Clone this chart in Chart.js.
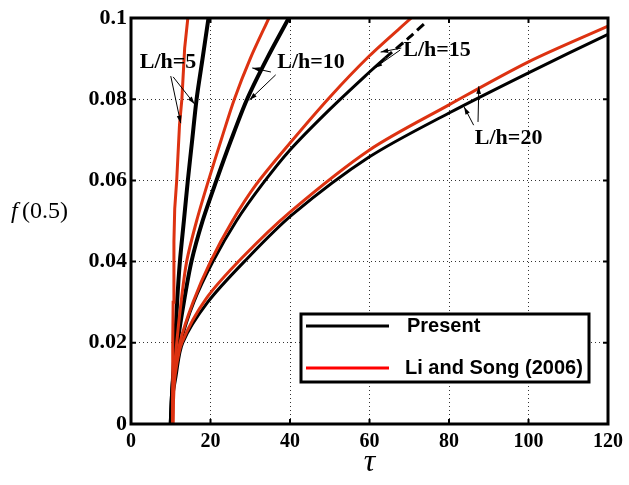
<!DOCTYPE html>
<html>
<head>
<meta charset="utf-8">
<script src="https://cdn.jsdelivr.net/npm/chart.js@4.4.1/dist/chart.umd.min.js"></script>
<style>
  body { margin: 0; background: #fff; }
</style>
</head>
<body>
<canvas id="chart" width="629" height="485"></canvas>
<script>
const xTickLabels = ['0', '20', '40', '60', '80', '100', '120'];
const yTickLabels = ['0', '0.02', '0.04', '0.06', '0.08', '0.1'];

// Present (black)
const tauPresent5 = [10, 10.2, 10.6, 11.1, 11.6, 12.3, 13.3, 14.3, 15.4, 16.5, 18.0, 19.5];
const fPresent5 = [0, 0.005, 0.012, 0.02, 0.03, 0.04, 0.05, 0.06, 0.07, 0.08, 0.09, 0.1];
const tauPresent10 = [10, 10.5, 11.7, 13.3, 15.2, 18, 21.5, 25.2, 29.2, 34.2, 39.7];
const fPresent10 = [0, 0.01, 0.02, 0.03, 0.04, 0.05, 0.06, 0.07, 0.08, 0.09, 0.1];
const tauPresent15 = [10, 10.8, 12.5, 15.8, 20.6, 26.5, 33, 40, 50, 60, 64, 70, 74];
const fPresent15 = [0, 0.01, 0.02, 0.03, 0.04, 0.05, 0.059, 0.0675, 0.0775, 0.0867, 0.0902, 0.0952, 0.0988];
const tauPresent20 = [10, 10.4, 11.3, 13, 19.3, 28.5, 40.5, 60, 80, 100, 120];
const fPresent20 = [0, 0.006, 0.0116, 0.02, 0.03, 0.04, 0.0515, 0.0658, 0.0766, 0.0865, 0.096];

// Li and Song (2006) (red)
const tauLi5 = [10.5, 10.5, 10.6, 10.8, 11.0, 11.5, 12.2, 12.8, 13.5, 14.3];
const fLi5 = [0, 0.02, 0.03, 0.045, 0.053, 0.06, 0.0736, 0.08, 0.0926, 0.1];
const tauLi10 = [10.5, 10.7, 11.5, 12.6, 14, 16.5, 19.5, 22.7, 26, 30, 34.7];
const fLi10 = [0, 0.01, 0.02, 0.03, 0.04, 0.05, 0.06, 0.07, 0.08, 0.09, 0.1];
const tauLi15 = [10.5, 10.7, 12.3, 15.6, 20, 25.5, 31.5, 40, 50, 60, 70.5];
const fLi15 = [0, 0.01, 0.02, 0.03, 0.04, 0.05, 0.059, 0.0692, 0.0805, 0.0907, 0.1];
const tauLi20 = [10.5, 10.7, 11.1, 12.8, 19, 28, 40, 60, 80, 100, 120];
const fLi20 = [0, 0.006, 0.012, 0.02, 0.031, 0.041, 0.0522, 0.0675, 0.0786, 0.0892, 0.098];

const red = '#dd3211';
const serif = '"Times New Roman", "Liberation Serif", serif';
const sans = 'Arial, "Liberation Sans", sans-serif';

function pts(t, f) {
  return t.map((x, i) => ({ x: x, y: f[i] }));
}

// labels and arrows, in data coordinates [tau, f]
const notes = [
  { text: 'L/h=5', at: [2.2, 0.0892], arrows: [[[10, 0.0857], [12.5, 0.0741]], [[10.6, 0.0855], [16, 0.0788]]] },
  { text: 'L/h=10', at: [36.8, 0.0892], arrows: [[[35.2, 0.0867], [30.5, 0.0877]], [[36.4, 0.086], [29.8, 0.0798]]] },
  { text: 'L/h=15', at: [68.5, 0.0921], arrows: [[[68, 0.0926], [62.8, 0.0916]], [[67.7, 0.0921], [61.3, 0.0877]]] },
  { text: 'L/h=20', at: [86.5, 0.0704], arrows: [[[86.2, 0.0736], [83.8, 0.0781]], [[87.3, 0.0744], [87.5, 0.0832]]] },
];

function arrow(ctx, x1, y1, x2, y2) {
  const a = Math.atan2(y2 - y1, x2 - x1);
  ctx.beginPath();
  ctx.moveTo(x1, y1);
  ctx.lineTo(x2, y2);
  ctx.stroke();
  ctx.beginPath();
  ctx.moveTo(x2, y2);
  ctx.lineTo(x2 - 8 * Math.cos(a - 0.3), y2 - 8 * Math.sin(a - 0.3));
  ctx.lineTo(x2 - 8 * Math.cos(a + 0.3), y2 - 8 * Math.sin(a + 0.3));
  ctx.closePath();
  ctx.fill();
}

const extras = {
  id: 'extras',
  afterDraw(chart) {
    const { ctx, chartArea: ca, scales } = chart;
    const sx = scales.x, sy = scales.y;
    ctx.save();

    // frame + inner ticks
    ctx.strokeStyle = '#000';
    ctx.lineWidth = 3;
    ctx.strokeRect(ca.left, ca.top, ca.right - ca.left, ca.bottom - ca.top);
    ctx.lineWidth = 2;
    ctx.beginPath();
    sx.ticks.forEach(t => {
      const x = sx.getPixelForValue(t.value);
      ctx.moveTo(x, ca.bottom); ctx.lineTo(x, ca.bottom - 5);
      ctx.moveTo(x, ca.top); ctx.lineTo(x, ca.top + 5);
    });
    sy.ticks.forEach(t => {
      const y = sy.getPixelForValue(t.value);
      ctx.moveTo(ca.left, y); ctx.lineTo(ca.left + 5, y);
      ctx.moveTo(ca.right, y); ctx.lineTo(ca.right - 5, y);
    });
    ctx.stroke();

    // axis titles
    ctx.fillStyle = '#000';
    ctx.textBaseline = 'middle';
    ctx.textAlign = 'left';
    ctx.font = 'italic 24px ' + serif;
    ctx.fillText('f', 11, 212);
    ctx.font = '24px ' + serif;
    ctx.fillText('(0.5)', 22, 212);
    ctx.textAlign = 'center';
    ctx.font = 'italic 32px ' + serif;
    ctx.fillText('τ', (ca.left + ca.right) / 2, 463);

    // curve labels
    ctx.lineWidth = 1;
    ctx.font = 'bold 22px ' + serif;
    ctx.textAlign = 'left';
    notes.forEach(n => {
      ctx.fillText(n.text, sx.getPixelForValue(n.at[0]), sy.getPixelForValue(n.at[1]));
      n.arrows.forEach(a => {
        arrow(ctx, sx.getPixelForValue(a[0][0]), sy.getPixelForValue(a[0][1]),
          sx.getPixelForValue(a[1][0]), sy.getPixelForValue(a[1][1]));
      });
    });

    // legend box
    const lx = ca.left + 170, ly = ca.top + 296;
    ctx.fillStyle = '#fff';
    ctx.fillRect(lx, ly, 288, 68);
    ctx.lineWidth = 3;
    ctx.strokeStyle = '#000';
    ctx.strokeRect(lx, ly, 288, 68);
    ctx.beginPath();
    ctx.moveTo(lx + 5, ly + 12); ctx.lineTo(lx + 88, ly + 12);
    ctx.stroke();
    ctx.strokeStyle = '#ff0000';
    ctx.beginPath();
    ctx.moveTo(lx + 5, ly + 54); ctx.lineTo(lx + 88, ly + 54);
    ctx.stroke();
    ctx.fillStyle = '#000';
    ctx.font = 'bold 20px ' + sans;
    ctx.fillText('Present', lx + 106, ly + 12);
    ctx.fillText('Li and Song (2006)', lx + 104, ly + 54);

    ctx.restore();
  }
};

new Chart(document.getElementById('chart'), {
  type: 'line',
  data: {
    datasets: [
      { label: 'Li 5', data: pts(tauLi5, fLi5), borderColor: red, borderWidth: 3, tension: 0, order: 0 },
      { label: 'Li 10', data: pts(tauLi10, fLi10), borderColor: red, borderWidth: 3, tension: 0.3, order: 0 },
      { label: 'Li 15', data: pts(tauLi15, fLi15), borderColor: red, borderWidth: 3, tension: 0.3, order: 0 },
      { label: 'Li 20', data: pts(tauLi20, fLi20), borderColor: red, borderWidth: 3, tension: 0.3, order: 0 },
      { label: 'Present 5', data: pts(tauPresent5, fPresent5), borderColor: '#000', borderWidth: 4, tension: 0.3, order: 1 },
      { label: 'Present 10', data: pts(tauPresent10, fPresent10), borderColor: '#000', borderWidth: 4, tension: 0.3, order: 1 },
      {
        label: 'Present 15', data: pts(tauPresent15, fPresent15), borderColor: '#000', borderWidth: 3, tension: 0.3, order: 1,
        segment: { borderDash: c => c.p0.parsed.x >= 64 ? [9, 5] : undefined }
      },
      { label: 'Present 20', data: pts(tauPresent20, fPresent20), borderColor: '#000', borderWidth: 3, tension: 0.3, order: 1 },
    ]
  },
  options: {
    responsive: false,
    animation: false,
    layout: { padding: { top: 18, right: 18, left: 0, bottom: 0 } },
    elements: { point: { radius: 0 } },
    plugins: { legend: { display: false }, tooltip: { enabled: false } },
    scales: {
      x: {
        type: 'linear', min: 0, max: 120,
        afterFit: s => { s.height = 61; },
        ticks: { stepSize: 20, color: '#000', font: { family: serif, size: 20, weight: 'bold' }, padding: 6, maxRotation: 0, callback: (v, i) => xTickLabels[i] },
        grid: { color: '#333', lineWidth: 1, drawTicks: false },
        border: { display: false, dash: [1, 3] }
      },
      y: {
        type: 'linear', min: 0, max: 0.1,
        afterFit: s => { s.width = 131; },
        ticks: { stepSize: 0.02, color: '#000', font: { family: serif, size: 22, weight: 'bold' }, padding: 4, callback: (v, i) => yTickLabels[i] },
        grid: { color: '#333', lineWidth: 1, drawTicks: false },
        border: { display: false, dash: [1, 3] }
      }
    }
  },
  plugins: [extras]
});
</script>
</body>
</html>
